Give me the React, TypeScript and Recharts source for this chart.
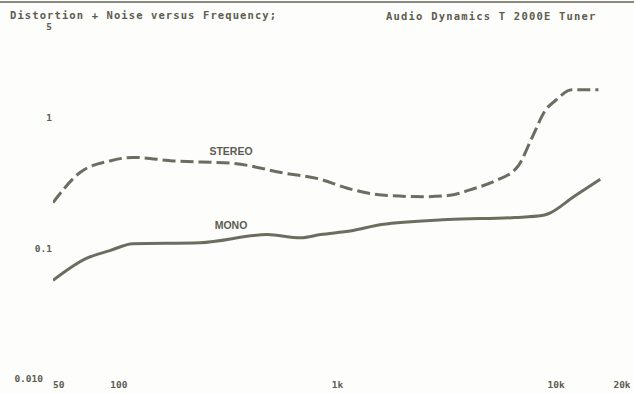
import React from "react";
import { Line, LineChart, XAxis, YAxis } from "recharts";

const stereoFreq = [50, 66, 91, 116, 177, 333, 565, 836, 1110, 1700, 2500, 3200, 4250, 5250, 6700, 7760, 8900, 9900, 11800, 15600];
const stereoThd = [0.225, 0.38, 0.47, 0.5, 0.47, 0.45, 0.38, 0.34, 0.29, 0.255, 0.25, 0.255, 0.29, 0.33, 0.43, 0.71, 1.14, 1.36, 1.65, 1.65];

const monoFreq = [50, 71, 91, 116, 235, 477, 677, 836, 1160, 1590, 3200, 6500, 8600, 9200, 12100, 15900];
const monoThd = [0.057, 0.084, 0.0965, 0.109, 0.111, 0.128, 0.121, 0.128, 0.137, 0.153, 0.167, 0.173, 0.179, 0.185, 0.252, 0.34];

const xTicks = [50, 100, 1000, 10000, 20000];
const xLabels = ["50", "100", "1k", "10k", "20k"];
const yTicks = [0.01, 0.1, 1, 5];
const yLabels = ["0.010", "0.1", "1", "5"];

const stereoData = stereoFreq.map((f, i) => ({ f, thd: stereoThd[i] }));
const monoData = monoFreq.map((f, i) => ({ f, thd: monoThd[i] }));

const INK = "#6c6c60";
const TEXT = "#5c5c52";
const mono = "'DejaVu Sans Mono', monospace";

function XTick({ x, y, payload }: any) {
  const i = xTicks.indexOf(payload.value);
  return (
    <text x={x} y={y + 9} textAnchor={i === 0 ? "start" : "middle"} fontFamily={mono} fontWeight="bold" fontSize={9.5} fill={TEXT}>
      {xLabels[i]}
    </text>
  );
}

function YTick({ x, y, payload }: any) {
  const i = yTicks.indexOf(payload.value);
  return (
    <text x={x - (i === 0 ? 10 : 1)} y={y} dy="0.35em" textAnchor="end" fontFamily={mono} fontWeight="bold" fontSize={9.5} fill={TEXT}>
      {yLabels[i]}
    </text>
  );
}

export default function App() {
  return (
    <div style={{ position: "absolute", top: 0, left: 0, width: 634, height: 394, background: "#fdfdfb", overflow: "hidden" }}>
      <div style={{ position: "absolute", top: 1, left: 0, width: 634, height: 2, background: "#8a8a80" }} />
      <LineChart width={634} height={394} margin={{ top: 27, right: 12, left: 0, bottom: 0 }}>
        <XAxis
          dataKey="f"
          type="number"
          scale="log"
          domain={[50, 20000]}
          ticks={xTicks}
          interval={0}
          axisLine={false}
          tickLine={false}
          tickSize={0}
          tickMargin={0}
          height={15}
          allowDataOverflow
          tick={<XTick />}
        />
        <YAxis
          type="number"
          scale="log"
          domain={[0.01, 5]}
          ticks={yTicks}
          interval={0}
          axisLine={false}
          tickLine={false}
          tickSize={0}
          tickMargin={0}
          width={53}
          allowDataOverflow
          tick={<YTick />}
        />
        <Line
          data={stereoData}
          dataKey="thd"
          type="monotone"
          stroke={INK}
          strokeWidth={3}
          strokeDasharray="13 5"
          dot={false}
          isAnimationActive={false}
        />
        <Line data={monoData} dataKey="thd" type="monotone" stroke={INK} strokeWidth={3} dot={false} isAnimationActive={false} />
      </LineChart>
      <svg width={634} height={394} style={{ position: "absolute", top: 0, left: 0, pointerEvents: "none" }}>
        <text x={10} y={19} fontFamily={mono} fontWeight="bold" fontSize={10.5} letterSpacing={1.1} fill={TEXT}>
          Distortion + Noise versus Frequency;
        </text>
        <text x={386} y={20} fontFamily={mono} fontWeight="bold" fontSize={10.5} letterSpacing={1.2} fill={TEXT}>
          Audio Dynamics T 2000E Tuner
        </text>
        <text x={231} y={155} textAnchor="middle" fontFamily="'Liberation Sans', Arial, sans-serif" fontWeight="bold" fontSize={10.5} fill={TEXT}>
          STEREO
        </text>
        <text x={231} y={229} textAnchor="middle" fontFamily="'Liberation Sans', Arial, sans-serif" fontWeight="bold" fontSize={10.5} fill={TEXT}>
          MONO
        </text>
      </svg>
    </div>
  );
}
